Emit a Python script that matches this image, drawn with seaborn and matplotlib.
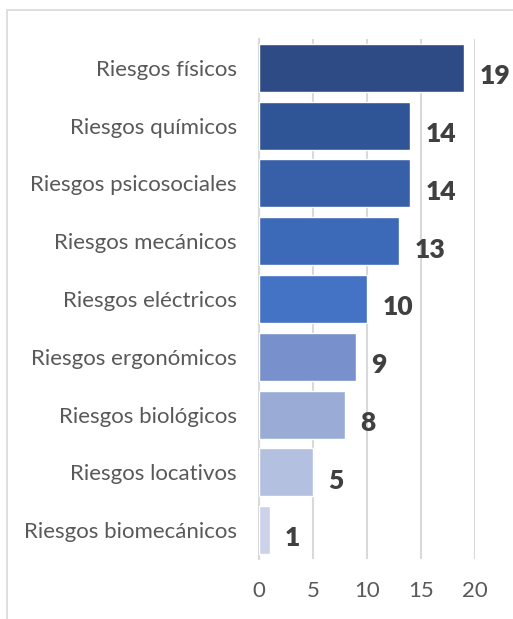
import pandas as pd
import matplotlib
matplotlib.use("Agg")
import matplotlib.pyplot as plt
import seaborn as sns
from matplotlib.patches import Rectangle

# Data
categorias = ["Riesgos físicos", "Riesgos químicos", "Riesgos psicosociales",
              "Riesgos mecánicos", "Riesgos eléctricos", "Riesgos ergonómicos",
              "Riesgos biológicos", "Riesgos locativos", "Riesgos biomecánicos"]
valores = [19, 14, 14, 13, 10, 9, 8, 5, 1]
colores = ["#2E4B85", "#2F5597", "#3760A9", "#3D69B9", "#4472C4",
           "#7891CD", "#9AACD6", "#B4C0E0", "#CBD2EA"]
ticks_x = [0, 5, 10, 15, 20]

df = pd.DataFrame({"categoria": categorias, "valor": valores})

sns.set_style("white")
plt.rcParams["font.family"] = ["Lato", "DejaVu Sans"]

fig = plt.figure(figsize=(5.13, 6.19), dpi=100)
ax = fig.add_axes([259 / 513, 1 - 559 / 619, 216 / 513, 520 / 619])

sns.barplot(data=df, x="valor", y="categoria", hue="categoria", palette=colores,
            saturation=1, legend=False, width=0.83, ax=ax, zorder=3)

ax.set_xlim(0, 20)
ax.set_xticks(ticks_x)
ax.grid(axis="x", color="#D9D9D9", linewidth=1.5, zorder=0)
ax.grid(axis="y", visible=False)
for s in ["top", "right", "bottom"]:
    ax.spines[s].set_visible(False)
ax.spines["left"].set_color("#D9D9D9")
ax.spines["left"].set_linewidth(1.5)
ax.set_xlabel("")
ax.set_ylabel("")
ax.tick_params(axis="both", length=0, labelsize=16, labelcolor="#595959")
ax.tick_params(axis="x", pad=16)
ax.tick_params(axis="y", pad=16)

# Value labels
for i, v in enumerate(valores):
    ax.annotate(str(v), xy=(v, i), xytext=(11, -6), textcoords="offset points",
                ha="left", va="center", fontsize=19, fontweight="heavy",
                color="#404040", annotation_clip=False)

# Chart border
fig.patches.append(Rectangle((7 / 513, -0.1), 1.5, 1 - 10 / 619 + 0.1,
                             transform=fig.transFigure, fill=False,
                             edgecolor="#D9D9D9", linewidth=1.2))

fig.savefig("out.png", dpi=100)
